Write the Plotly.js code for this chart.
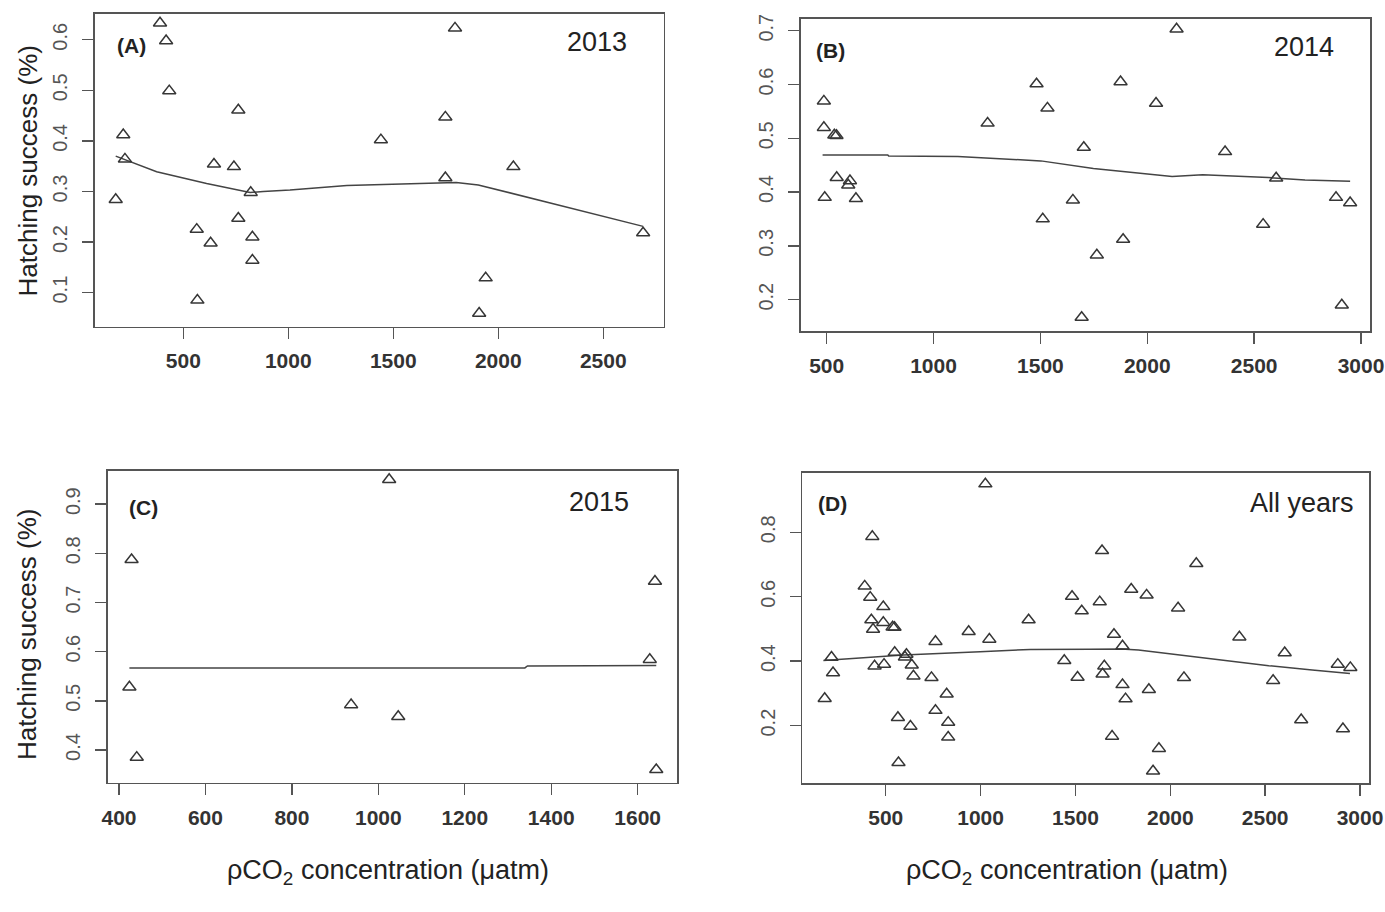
<!DOCTYPE html>
<html>
<head>
<meta charset="utf-8">
<script src="https://cdn.plot.ly/plotly-3.0.1.min.js"></script>
<style>html,body{margin:0;padding:0;background:#fff;}#chart{width:1385px;height:912px;}</style>
</head>
<body>
<div id="chart"></div>
<script>
// ---- Data ----
// (A) 2013
var x2013 = [178, 214, 222, 389, 418, 433, 564, 567, 630, 646, 741, 762, 762, 821, 829, 829, 1441, 1748, 1748, 1794, 1909, 1940, 2072, 2690];
var y2013 = [0.284, 0.412, 0.364, 0.633, 0.598, 0.499, 0.225, 0.085, 0.198, 0.354, 0.349, 0.461, 0.247, 0.298, 0.210, 0.164, 0.402, 0.447, 0.327, 0.623, 0.059, 0.129, 0.349, 0.218];
var fitX2013 = [178, 373, 611, 818, 881, 1008, 1279, 1696, 1800, 1905, 2690];
var fitY2013 = [0.370, 0.339, 0.316, 0.298, 0.300, 0.303, 0.312, 0.316, 0.318, 0.313, 0.231];

// (B) 2014
var x2014 = [487, 487, 491, 536, 546, 547, 609, 601, 637, 1253, 1482, 1511, 1533, 1652, 1693, 1703, 1764, 1875, 1887, 2041, 2137, 2364, 2542, 2603, 2883, 2910, 2949];
var y2014 = [0.569, 0.520, 0.390, 0.506, 0.505, 0.427, 0.421, 0.413, 0.388, 0.528, 0.601, 0.350, 0.556, 0.385, 0.167, 0.483, 0.283, 0.605, 0.312, 0.565, 0.703, 0.475, 0.340, 0.426, 0.390, 0.190, 0.380];
var fitX2014 = [481, 786, 790, 1114, 1502, 1748, 2116, 2259, 2566, 2738, 2949];
var fitY2014 = [0.469, 0.469, 0.467, 0.466, 0.458, 0.444, 0.429, 0.432, 0.427, 0.4225, 0.420];

// (C) 2015
var x2015 = [424, 429, 441, 937, 1025, 1046, 1628, 1640, 1643];
var y2015 = [0.528, 0.787, 0.385, 0.492, 0.950, 0.468, 0.584, 0.743, 0.360];
var fitX2015 = [424, 1339, 1345, 1643];
var fitY2015 = [0.567, 0.567, 0.571, 0.572];

// (D) All years smoother
var fitXAll = [171, 593, 997, 1261, 1577, 1741, 1832, 2061, 2290, 2519, 2748, 2947];
var fitYAll = [0.402, 0.419, 0.429, 0.4365, 0.437, 0.438, 0.435, 0.419, 0.402, 0.386, 0.373, 0.362];

// Ticks
var xTicksA = [500, 1000, 1500, 2000, 2500];
var yTicksA = [0.1, 0.2, 0.3, 0.4, 0.5, 0.6];
var xTicksB = [500, 1000, 1500, 2000, 2500, 3000];
var yTicksB = [0.2, 0.3, 0.4, 0.5, 0.6, 0.7];
var xTicksC = [400, 600, 800, 1000, 1200, 1400, 1600];
var yTicksC = [0.4, 0.5, 0.6, 0.7, 0.8, 0.9];
var xTicksD = [500, 1000, 1500, 2000, 2500, 3000];
var yTicksD = [0.2, 0.4, 0.6, 0.8];

var panelLabels = ['(A)', '(B)', '(C)', '(D)'];
var yearLabels = ['2013', '2014', '2015', 'All years'];
var yTitle = 'Hatching success (%)';
var xTitle = '\u03c1CO<sub>2</sub> concentration (\u03bcatm)';

// ---- Layout helpers ----
var W = 1385, H = 912;
function px(x) { return x / W; }
function py(y) { return 1 - y / H; }

var INK = '#363636';
var SANS = '"Liberation Sans", Arial, sans-serif';

function xAxis(dom, range, ticks, anchor) {
  return {
    domain: dom, range: range, anchor: anchor,
    tickmode: 'array', tickvals: ticks, ticktext: ticks.map(String),
    ticks: 'outside', ticklen: 11, tickwidth: 1.4, tickcolor: '#555',
    showline: true, mirror: true, linecolor: '#555', linewidth: 1.6,
    showgrid: false, zeroline: false,
    ticklabelstandoff: 4, ticklabeloverflow: 'allow',
    tickfont: { family: SANS, size: 21, color: '#333', weight: 700 }
  };
}
function yAxis(dom, range, ticks, anchor) {
  return {
    domain: dom, range: range, anchor: anchor,
    tickmode: 'array', tickvals: ticks, ticktext: ticks.map(function (v) { return v.toFixed(1); }),
    ticks: 'outside', ticklen: 11, tickwidth: 1.4, tickcolor: '#555',
    showline: true, mirror: true, linecolor: '#555', linewidth: 1.6,
    showgrid: false, zeroline: false, tickangle: -90,
    ticklabelstandoff: 7, ticklabeloverflow: 'allow',
    tickfont: { family: SANS, size: 20, color: '#555' }
  };
}

var marker = { symbol: 'triangle-up-open', size: 11.5, color: INK, line: { color: INK, width: 1.5 } };
function pts(x, y, xa, ya) {
  return { type: 'scatter', mode: 'markers', x: x, y: y, xaxis: xa, yaxis: ya, marker: marker, hoverinfo: 'x+y' };
}
function fit(x, y, xa, ya) {
  return { type: 'scatter', mode: 'lines', x: x, y: y, xaxis: xa, yaxis: ya, line: { color: '#444', width: 1.5 }, hoverinfo: 'skip' };
}

var xAll = x2013.concat(x2014, x2015);
var yAll = y2013.concat(y2014, y2015);

var data = [
  fit(fitX2013, fitY2013, 'x', 'y'), pts(x2013, y2013, 'x', 'y'),
  fit(fitX2014, fitY2014, 'x2', 'y2'), pts(x2014, y2014, 'x2', 'y2'),
  fit(fitX2015, fitY2015, 'x3', 'y3'), pts(x2015, y2015, 'x3', 'y3'),
  fit(fitXAll, fitYAll, 'x4', 'y4'), pts(xAll, yAll, 'x4', 'y4')
];

function ann(text, x, y, size, weight, extra) {
  var a = { text: text, x: px(x), y: py(y), xref: 'paper', yref: 'paper', showarrow: false,
    xanchor: 'center', yanchor: 'middle',
    font: { family: SANS, size: size, color: '#222', weight: weight || 400 } };
  if (extra) for (var k in extra) a[k] = extra[k];
  return a;
}

var annotations = [
  ann(panelLabels[0], 131, 46, 21, 700),
  ann(panelLabels[1], 830, 50, 21, 700),
  ann(panelLabels[2], 143, 508, 21, 700),
  ann(panelLabels[3], 832, 503, 21, 700),
  ann(yearLabels[0], 597, 42, 27, 400),
  ann(yearLabels[1], 1304, 47, 27, 400),
  ann(yearLabels[2], 599, 502, 27, 400),
  ann(yearLabels[3], 1302, 503, 27, 400),
  ann(yTitle, 27, 171.5, 26, 400, { textangle: -90 }),
  ann(yTitle, 27, 635, 26, 400, { textangle: -90 }),
  ann(xTitle, 388, 872, 27, 400),
  ann(xTitle, 1067, 872, 27, 400)
];

var layout = {
  width: W, height: H,
  margin: { l: 0, r: 0, t: 0, b: 0 },
  paper_bgcolor: '#fff', plot_bgcolor: '#fff',
  showlegend: false,
  xaxis: xAxis([px(94.5), px(663.5)], [77, 2787], xTicksA, 'y'),
  yaxis: yAxis([py(326.5), py(14)], [0.033, 0.651], yTicksA, 'x'),
  xaxis2: xAxis([px(801), px(1370)], [380, 3042], xTicksB, 'y2'),
  yaxis2: yAxis([py(331), py(19)], [0.1418, 0.7217], yTicksB, 'x2'),
  xaxis3: xAxis([px(108), px(677)], [374.5, 1691], xTicksC, 'y3'),
  yaxis3: yAxis([py(782.7), py(470.7)], [0.3335, 0.968], yTicksC, 'x3'),
  xaxis4: xAxis([px(802.3), px(1369.3)], [60, 3049], xTicksD, 'y4'),
  yaxis4: yAxis([py(783.3), py(472.7)], [0.021, 0.985], yTicksD, 'x4'),
  annotations: annotations
};

Plotly.newPlot('chart', data, layout, { displayModeBar: false, staticPlot: true });
</script>
</body>
</html>
